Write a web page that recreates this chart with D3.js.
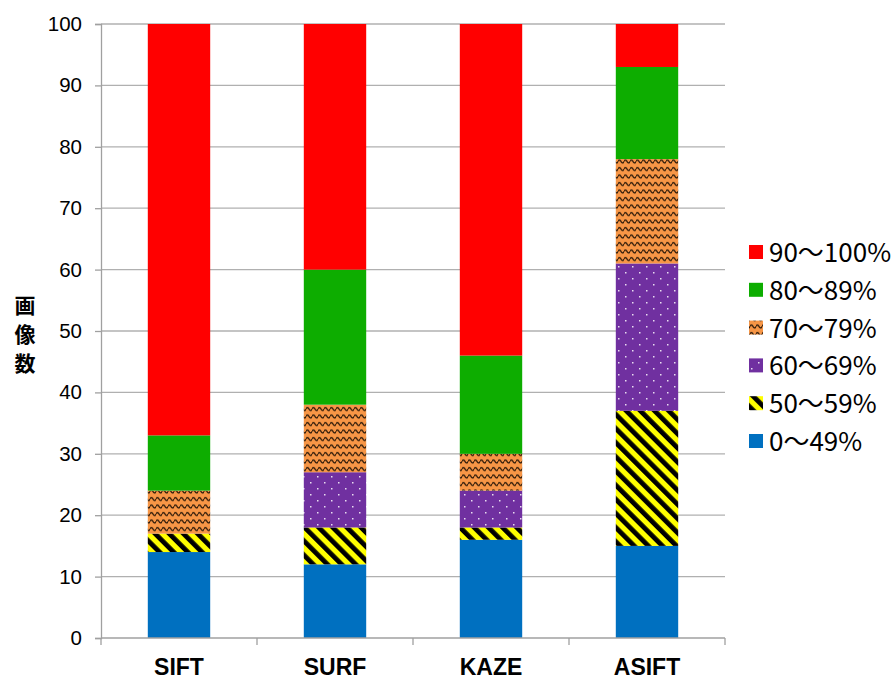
<!DOCTYPE html>
<html><head><meta charset="utf-8">
<script src="https://cdn.jsdelivr.net/npm/d3@7/dist/d3.min.js"></script>
<style>body{margin:0;background:#fff}</style>
</head><body>
<script>
const categories = ["SIFT", "SURF", "KAZE", "ASIFT"];
const seriesNames = ["0～49%", "50～59%", "60～69%", "70～79%", "80～89%", "90～100%"];
const s0_49   = [14, 12, 16, 15];
const s50_59  = [3, 6, 2, 22];
const s60_69  = [0, 9, 6, 24];
const s70_79  = [7, 11, 6, 17];
const s80_89  = [9, 22, 16, 15];
const s90_100 = [67, 40, 54, 7];
const yTicks = [0,10,20,30,40,50,60,70,80,90,100];
const yTitle = "画像数";

const seriesVals = [s0_49, s50_59, s60_69, s70_79, s80_89, s90_100];
const fills = ["#0070C0","url(#pYellow)","url(#pPurple)","url(#pOrange)","#0DAD00","#FF0000"];
const swatchFills = ["#0070C0","url(#pYellowL)","url(#pPurpleL)","url(#pOrangeL)","#0DAD00","#FF0000"];

const W = 895, H = 681;
const m = {left:101, right:170, top:24, bottom:43};
const svg = d3.select("body").append("svg").attr("width",W).attr("height",H);
const defs = svg.append("defs");

function yellowPat(id){
  const p = defs.append("pattern").attr("id",id).attr("patternUnits","userSpaceOnUse")
    .attr("width",10).attr("height",10).attr("patternTransform","rotate(-45)");
  p.append("rect").attr("width",10).attr("height",10).attr("fill","#FFFF00");
  p.append("rect").attr("width",4.8).attr("height",10).attr("fill","#000");
}
function purplePat(id){
  const p = defs.append("pattern").attr("id",id).attr("patternUnits","userSpaceOnUse")
    .attr("width",14).attr("height",12);
  p.append("rect").attr("width",14).attr("height",12).attr("fill","#7030A0");
  p.append("rect").attr("x",2).attr("y",2).attr("width",1.5).attr("height",1.5).attr("fill","#e8dcf0");
  p.append("rect").attr("x",9).attr("y",8).attr("width",1.5).attr("height",1.5).attr("fill","#e8dcf0");
}
function orangePat(id){
  const p = defs.append("pattern").attr("id",id).attr("patternUnits","userSpaceOnUse")
    .attr("width",6).attr("height",7.5);
  p.append("rect").attr("width",6).attr("height",7.5).attr("fill","#F79646");
  p.append("path").attr("d","M0,4 Q1.5,1 3,4 T6,4").attr("fill","none").attr("stroke","#2a1808").attr("stroke-width",1.4);
}
yellowPat("pYellow"); purplePat("pPurple"); orangePat("pOrange");
yellowPat("pYellowL"); purplePat("pPurpleL"); orangePat("pOrangeL");

const x = d3.scaleBand().domain(categories).range([m.left, W-m.right]).paddingInner(0.6).paddingOuter(0.3);
const xb = d3.scaleBand().domain(categories).range([m.left, W-m.right]);
const y = d3.scaleLinear().domain([0,100]).range([H-m.bottom, m.top]);

// grid
svg.append("g").selectAll("line").data(yTicks.filter(d=>d>0)).join("line")
  .attr("x1",m.left).attr("x2",W-m.right).attr("y1",d=>y(d)).attr("y2",d=>y(d))
  .attr("stroke","#b0b0b0").attr("stroke-width",1.3);

// stacked bars
const rows = categories.map((c,i)=>{const o={cat:c}; seriesNames.forEach((s,j)=>o[s]=seriesVals[j][i]); return o;});
const stack = d3.stack().keys(seriesNames)(rows);
svg.append("g").selectAll("g").data(stack).join("g")
  .attr("fill",(d,i)=>fills[i])
  .selectAll("rect").data(d=>d).join("rect")
  .attr("x",d=>x(d.data.cat)).attr("width",x.bandwidth())
  .attr("y",d=>y(d[1])).attr("height",d=>y(d[0])-y(d[1]));

// y axis
const ya = svg.append("g").attr("transform",`translate(${m.left},0)`)
  .call(d3.axisLeft(y).tickValues(yTicks).tickSize(6).tickPadding(13));
ya.select(".domain").attr("stroke","#a0a0a0").attr("stroke-width",1.3);
ya.selectAll(".tick line").attr("stroke","#a0a0a0").attr("stroke-width",1.3);
ya.selectAll("text").attr("font-family","Liberation Sans, Arial, sans-serif").attr("font-size",20.5).attr("fill","#000");

// x axis
const xg = svg.append("g");
xg.append("line").attr("x1",m.left).attr("x2",W-m.right).attr("y1",y(0)).attr("y2",y(0))
  .attr("stroke","#a0a0a0").attr("stroke-width",1.3);
const edges = categories.map(c=>xb(c)).concat([W-m.right]);
xg.selectAll("line.t").data(edges).join("line").attr("class","t")
  .attr("x1",d=>d).attr("x2",d=>d).attr("y1",y(0)).attr("y2",y(0)+7)
  .attr("stroke","#a0a0a0").attr("stroke-width",1.3);
xg.selectAll("text").data(categories).join("text")
  .attr("x",d=>xb(d)+xb.bandwidth()/2).attr("y",y(0)+37)
  .attr("text-anchor","middle").attr("font-family","Liberation Sans, Arial, sans-serif")
  .attr("font-weight","bold").attr("font-size",23).text(d=>d);

// y title vertical
svg.append("g").selectAll("text").data(Array.from(yTitle)).join("text")
  .attr("x",25).attr("y",(d,i)=>313+i*29).attr("text-anchor","middle")
  .attr("font-family","Noto Sans CJK JP, sans-serif").attr("font-weight","bold").attr("font-size",21)
  .text(d=>d);

// legend (reverse order)
const leg = svg.append("g");
const order = d3.range(seriesNames.length).reverse();
order.forEach((si,k)=>{
  const cy = 252 + k*37.8;
  leg.append("rect").attr("x",749).attr("y",cy-7).attr("width",14).attr("height",14).attr("fill",swatchFills[si]);
  leg.append("text").attr("x",769).attr("y",cy+10).attr("font-family","Noto Sans CJK JP, sans-serif")
    .attr("font-size",26).attr("fill","#000").text(seriesNames[si]);
});
</script>
</body></html>
